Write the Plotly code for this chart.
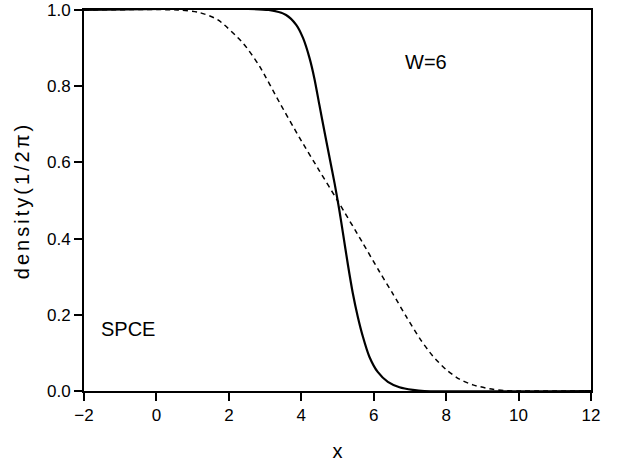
import plotly.graph_objects as go

# Solid curve (steep profile)
solid_x = [-2, 3.1, 3.58, 3.86, 4.05, 4.23, 4.36, 4.5, 4.64, 4.78, 4.92, 5.05, 5.15, 5.29, 5.42, 5.56, 5.7, 5.88, 6.11, 6.39, 6.71, 7.08, 7.4, 12]
solid_y = [1.0, 1.0, 0.987, 0.961, 0.926, 0.873, 0.821, 0.751, 0.681, 0.613, 0.545, 0.475, 0.415, 0.33, 0.258, 0.195, 0.143, 0.09, 0.05, 0.024, 0.01, 0.003, 0.0, 0.0]

# Dashed curve (broad profile)
dash_x = [-2, 0.6, 1.2, 1.7, 2.4, 2.85, 3.4, 3.95, 4.5, 5.0, 5.7, 6.16, 6.53, 6.9, 7.27, 7.63, 8.0, 8.37, 8.74, 9.2, 9.6, 10.0, 12]
dash_y = [1.0, 1.0, 0.993, 0.974, 0.912, 0.852, 0.757, 0.665, 0.578, 0.50, 0.388, 0.313, 0.255, 0.195, 0.138, 0.092, 0.056, 0.031, 0.016, 0.006, 0.001, 0.0, 0.0]

x_ticks = [-2, 0, 2, 4, 6, 8, 10, 12]
y_ticks = [0.0, 0.2, 0.4, 0.6, 0.8, 1.0]

FONT = "Liberation Sans, Arial, sans-serif"

fig = go.Figure()
fig.add_trace(go.Scatter(x=dash_x, y=dash_y, mode="lines",
                         line=dict(color="black", width=1.5, dash="5px,4px", shape="spline", smoothing=0.7),
                         showlegend=False))
fig.add_trace(go.Scatter(x=solid_x, y=solid_y, mode="lines",
                         line=dict(color="black", width=2.2, shape="spline", smoothing=0.7),
                         showlegend=False))

fig.add_annotation(x=7.43, y=0.864, text="W=6", showarrow=False,
                   font=dict(family=FONT, size=20, color="black"))
fig.add_annotation(x=-0.79, y=0.163, text="SPCE", showarrow=False,
                   font=dict(family=FONT, size=20, color="black"))

fig.update_layout(
    width=623, height=462,
    margin=dict(l=84, r=32, t=10, b=71),
    paper_bgcolor="white", plot_bgcolor="white",
    font=dict(family=FONT, color="black"),
    xaxis=dict(range=[-2, 12], tickvals=x_ticks, ticks="outside", ticklen=8, tickwidth=2,
               tickcolor="black", showline=True, linecolor="black", linewidth=2, mirror=True,
               showgrid=False, zeroline=False, tickfont=dict(size=17, family=FONT),
               automargin=False,
               title=dict(text="x", font=dict(size=20, family=FONT), standoff=20)),
    yaxis=dict(range=[0, 1], tickvals=y_ticks, tickformat=".1f", ticks="outside", ticklen=8,
               tickwidth=2, tickcolor="black", showline=True, linecolor="black", linewidth=2,
               mirror=True, showgrid=False, zeroline=False, tickfont=dict(size=17, family=FONT),
               automargin=False,
               title=dict(text='<span style="letter-spacing:3px">density(1/2π)</span>',
                          font=dict(size=20, family=FONT), standoff=12)),
)

fig.write_html("out.html")
